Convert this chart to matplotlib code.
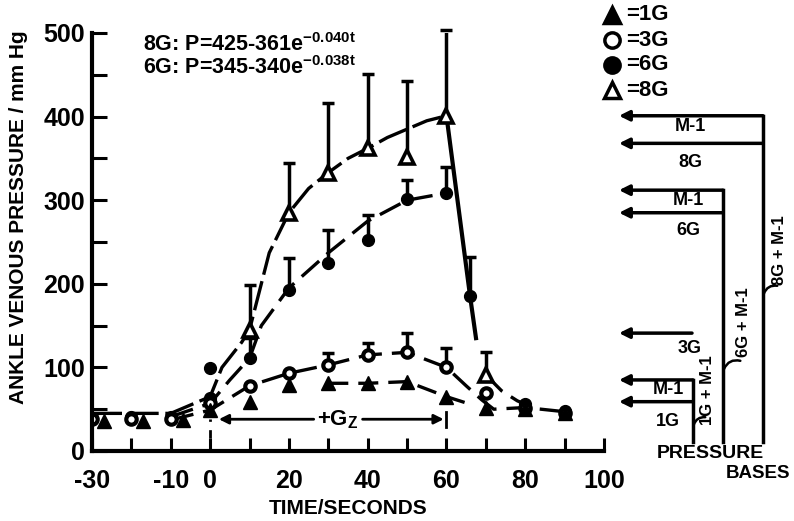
import matplotlib
matplotlib.use("Agg")
import matplotlib.pyplot as plt
from matplotlib.lines import Line2D
from matplotlib.ticker import MultipleLocator, FixedLocator, FixedFormatter
import matplotlib.transforms as mtrans

plt.rcParams['font.family'] = ['Liberation Sans', 'DejaVu Sans']
plt.rcParams['font.weight'] = 'bold'
plt.rcParams['mathtext.default'] = 'regular'

# ---------------- data ----------------
# 8G  (open triangles)
t8 = [10, 20, 30, 40, 50, 60, 70]
p8 = [145, 285, 333, 362, 352, 401, 91]
e8 = [199, 344, 416, 451, 443, 504, 118]
c8_t = [-30, -10, 0, 3, 8, 10, 15, 20, 25, 30, 35, 40, 45, 50, 55, 60]
c8_p = [45, 45, 65, 100, 130, 145, 237, 285, 314, 333, 350, 362, 375, 385, 395, 401]
drop_t = [60, 66, 67.5]
drop_p = [401, 185, 135]
r8_t = [70, 74, 78, 80]
r8_p = [91, 72, 60, 56]

# 6G  (filled circles)
t6 = [-30, -20, -10, 0, 10, 20, 30, 40, 50, 60, 66, 80, 90]
p6 = [40, 41, 41, 63, 111, 193, 225, 252, 301, 309, 185, 56, 48]
t6_err = [10, 20, 30, 40, 50, 60, 66]
e6 = [135, 231, 264, 282, 324, 340, 232]
c6_t = [-10, 0, 5, 10, 13, 20, 30, 40, 50, 57]
c6_p = [41, 57, 85, 111, 150, 195, 237, 275, 300, 306]
stray_t = [0]
stray_p = [99]

# 3G  (open circles)
t3 = [-30, -20, -10, 0, 10, 20, 30, 40, 50, 60, 70, 80, 90]
p3 = [38, 38, 38, 58, 78, 93, 103, 115, 118, 100, 69, 52, 46]
t3_err = [30, 40, 50, 60]
e3 = [117, 129, 141, 123]
c3_t = [-10, 0, 10, 20, 30, 40, 50, 60, 65, 69, 72, 80, 90]
c3_p = [37, 49, 78, 93, 103, 115, 118, 100, 78, 61, 50, 52, 47]

# 1G  (filled triangles)
t1 = [-27, -17, -7, 0, 10, 20, 30, 40, 50, 60, 70, 80, 90]
p1 = [36, 36, 37, 49, 59, 79, 81, 81, 83, 65, 51, 50, 46]
c1_t = [30, 40, 50, 60, 66]
c1_p = [81, 81, 83, 65, 56]

# exposure period (+Gz)
gz_start, gz_end, gz_level = 0, 60, 38

# pressure bases (mm Hg)
base_levels = [401, 368, 312, 285, 141, 85, 59]

# tick labels
xtick_pos = [-30, -10, 0, 20, 40, 60, 80, 100]
xtick_lab = ['-30', '-10', '0', '20', '40', '60', '80', '100']
ytick_pos = [0, 100, 200, 300, 400, 500]
ytick_lab = ['0', '100', '200', '300', '400', '500']

# ---------------- figure ----------------
W, H = 794, 521
fig = plt.figure(figsize=(W / 100, H / 100), dpi=100)
ax = fig.add_axes([92 / W, 1 - 451 / H, (604 - 92) / W, (451 - 33) / H])
ax.set_xlim(-30, 100)
ax.set_ylim(0, 500)

for s in ['top', 'right']:
    ax.spines[s].set_visible(False)
for s in ['left', 'bottom']:
    ax.spines[s].set_linewidth(3)

ax.xaxis.set_major_locator(FixedLocator(xtick_pos))
ax.xaxis.set_major_formatter(FixedFormatter(xtick_lab))
ax.xaxis.set_minor_locator(FixedLocator([-20, 10, 30, 50, 70, 90]))
ax.yaxis.set_major_locator(FixedLocator(ytick_pos))
ax.yaxis.set_major_formatter(FixedFormatter(ytick_lab))
ax.yaxis.set_minor_locator(MultipleLocator(50))
ax.tick_params(axis='x', which='both', direction='in', length=9.5, width=2.2,
               pad=13, labelsize=18)
ax.tick_params(axis='y', which='both', direction='in', length=11, width=2.2,
               pad=5, labelsize=18)

ax.set_xlabel('TIME/SECONDS', fontsize=15, fontweight='bold', labelpad=4)
ax.set_ylabel('ANKLE VENOUS PRESSURE / mm Hg', fontsize=15, fontweight='bold', labelpad=4)
ax.yaxis.set_label_coords(-0.125, 0.56)

lw = 2.4
# curves
ax.plot(c8_t, c8_p, color='k', lw=lw, dashes=(9, 2))
ax.plot(drop_t, drop_p, color='k', lw=3)
ax.plot(r8_t, r8_p, color='k', lw=lw, dashes=(7, 3))
ax.plot(c6_t, c6_p, color='k', lw=lw, dashes=(7, 3))
ax.plot(c3_t, c3_p, color='k', lw=lw, dashes=(7, 3))
ax.plot(c1_t, c1_p, color='k', lw=lw, dashes=(6, 3))

# error bars (upper only)
def upper_bars(t, p, e):
    ax.vlines(t, p, e, color='k', lw=2.5)
    ax.plot(t, e, ls='none', marker='_', ms=9, mew=2.5, color='k', clip_on=False)

upper_bars(t8, p8, e8)
upper_bars(t6_err, [p6[t6.index(t)] for t in t6_err], e6)
upper_bars(t3_err, [p3[t3.index(t)] for t in t3_err], e3)

# markers
ax.plot(t8, p8, ls='none', marker='^', ms=10, mfc='white', mec='k', mew=2.6)
ax.plot(t6, p6, ls='none', marker='o', ms=8.5, color='k')
ax.plot(stray_t, stray_p, ls='none', marker='o', ms=8.5, color='k')
ax.plot(t3, p3, ls='none', marker='o', ms=7.5, mfc='white', mec='k', mew=3)
ax.plot(t1, p1, ls='none', marker='^', ms=9.5, color='k')

# +Gz period arrow
ax.annotate('', xy=(gz_start + 1.5, gz_level), xytext=(27, gz_level),
            arrowprops=dict(arrowstyle='-|>', lw=2, color='k', mutation_scale=14))
ax.annotate('', xy=(gz_end, gz_level), xytext=(38, gz_level),
            arrowprops=dict(arrowstyle='-|>', lw=2, color='k', mutation_scale=14))
ax.plot([gz_end, gz_end], [gz_level - 9, gz_level + 9], color='k', lw=2)
ax.plot([gz_start, gz_start], [15, gz_level], color='k', lw=2, dashes=(3, 3))
ax.text(32.5, gz_level, '+G$_Z$', fontsize=16, ha='center', va='center')

# equations
fig.text(143 / W, 1 - 45 / H, '8G: P=425-361$e^{-0.040t}$', fontsize=15.5, ha='left', va='center')
fig.text(143 / W, 1 - 68 / H, '6G: P=345-340$e^{-0.038t}$', fontsize=15.5, ha='left', va='center')

# legend (top right)
leg_items = [('^', 'k', 'k', '=1G'), ('o', 'white', 'k', '=3G'),
             ('o', 'k', 'k', '=6G'), ('^', 'white', 'k', '=8G')]
for i, (m, fc, ec, lab) in enumerate(leg_items):
    y = 1 - (15 + i * 25) / H
    fig.add_artist(Line2D([612 / W], [y], marker=m, ms=11, mfc=fc, mec=ec, mew=2.5,
                          ls='none', transform=fig.transFigure))
    fig.text(626 / W, y, lab, fontsize=16, ha='left', va='center')

# pressure bases (right side), y in data units of the main axes
tr = mtrans.blended_transform_factory(fig.transFigure, ax.transData)
head_x = 619 / W
arrow_ends = [763, 763, 723, 723, 692, 693, 693]
for lvl, xe in zip(base_levels, arrow_ends):
    ax.annotate('', xy=(head_x, lvl), xytext=(xe / W, lvl), xycoords=tr, textcoords=tr,
                arrowprops=dict(arrowstyle='-|>', lw=2.5, color='k', mutation_scale=15,
                                shrinkA=0, shrinkB=0),
                annotation_clip=False)
bottom_v = 11
for xv, top in [(693, base_levels[5]), (723, base_levels[2]), (763, base_levels[0])]:
    ax.plot([xv / W, xv / W], [top, bottom_v], transform=tr, color='k', lw=2.5, clip_on=False)

side_labels = [(690, 388, 'M-1'), (690, 345, '8G'), (688, 300, 'M-1'), (688, 264, '6G'),
               (690, 123, '3G'), (668, 73, 'M-1'), (668, 35, '1G')]
for xp, v, s in side_labels:
    ax.text(xp / W, v, s, transform=tr, fontsize=13, ha='center', va='center')

rot_labels = [(708, 73, '1G + M-1', 693, 28), (743, 154, '6G + M-1', 723, 95),
              (780, 240, '8G + M-1', 763, 185)]
for xp, v, s, xl, vh in rot_labels:
    ax.text(xp / W, v, s, transform=tr, fontsize=12, rotation=90, ha='center', va='center')
    ax.annotate('', xy=(xl / W, vh), xytext=(xp / W, vh + 12), xycoords=tr, textcoords=tr,
                arrowprops=dict(arrowstyle='-', lw=1.8, color='k',
                                connectionstyle='arc3,rad=0.5'),
                annotation_clip=False)

fig.text(710 / W, 1 - 453 / H, 'PRESSURE', fontsize=14, ha='center', va='center')
fig.text(790 / W, 1 - 473 / H, 'BASES', fontsize=13.5, ha='right', va='center')

fig.savefig('out.png', dpi=100)
